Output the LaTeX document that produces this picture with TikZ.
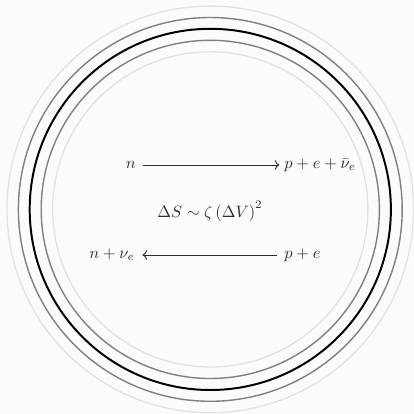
\documentclass[tikz,border=0pt]{standalone}
\usetikzlibrary{arrows.meta}
\definecolor{bgc}{RGB}{251,251,251}
\definecolor{ringlight}{RGB}{226,226,226}
\definecolor{ringmid}{RGB}{128,128,128}
\definecolor{inkc}{RGB}{45,45,45}
\begin{document}
\begin{tikzpicture}[x=0.606pt,y=-0.606pt,
  lbl/.style={inner sep=0pt, text=inkc},
  rxn/.style={->, line width=0.55pt, draw=inkc},
  ringfaint/.style={draw=ringlight, line width=0.8pt},
  ringgray/.style={draw=ringmid, line width=0.85pt},
  ringdark/.style={draw=black, line width=1.2pt}]
\fill[bgc] (0,0) rectangle (414,414);
\useasboundingbox (0,0) rectangle (414,414);
\coordinate (c) at (210.3,209.4);
\draw[ringfaint] (c) circle[radius=203.3];
\draw[ringgray]  (c) circle[radius=191.9];
\draw[ringdark]  (c) circle[radius=180.6];
\draw[ringgray]  (c) circle[radius=169.1];
\draw[ringfaint] (c) circle[radius=157.6];
\node[lbl, anchor=base east] (n1) at (136,168.3) {$n$};
\node[lbl, anchor=base west] (p1) at (284,168.3) {$p+e+\bar{\nu}_e$};
\node[lbl, anchor=base] (ds) at (210,217) {$\Delta S \sim \zeta\left(\Delta V\right)^2$};
\node[lbl, anchor=base east] (n2) at (135,258.3) {$n+\nu_e$};
\node[lbl, anchor=base west] (p2) at (284,258.3) {$p+e$};
\draw[rxn] ([yshift=2pt,xshift=4pt]n1.base east) -- ([yshift=2pt,xshift=-2.8pt]p1.base west);
\draw[rxn] ([yshift=2pt,xshift=-4pt]p2.base west) -- ([yshift=2pt,xshift=4.5pt]n2.base east);
\end{tikzpicture}
\end{document}
